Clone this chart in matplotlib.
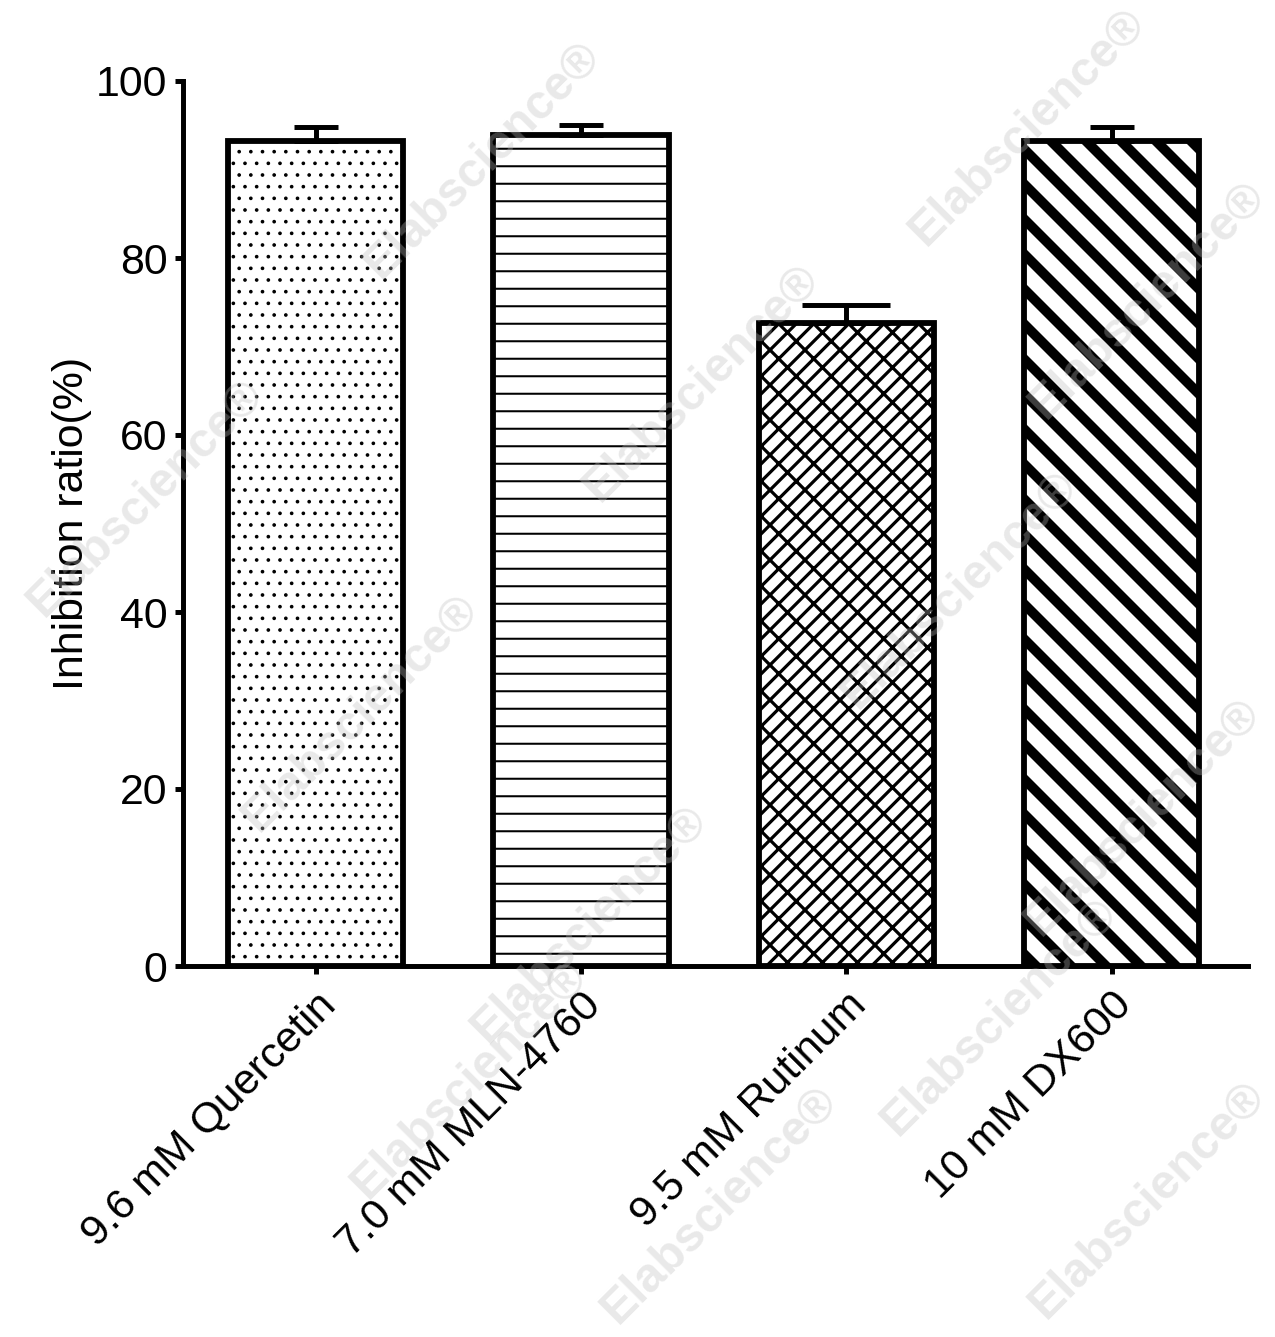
import matplotlib
matplotlib.use('Agg')
import matplotlib.pyplot as plt
import matplotlib.transforms as mtransforms
import numpy as np

# ---- data ----
categories = ["9.6 mM Quercetin", "7.0 mM MLN-4760", "9.5 mM Rutinum", "10 mM DX600"]
values = [93.2, 93.9, 72.6, 93.2]
errors = [1.6, 1.1, 2.1, 1.6]
y_ticks = [0, 20, 40, 60, 80, 100]
y_label = "Inhibition ratio(%)"

# ---- styles ----
hatches = ['...', '--', '////\\\\', '\\\\']
hatch_lws = [0.45, 0.7, 1.1, 3.4]
capsizes = [7.4, 7.4, 15.0, 7.4]

W, H, DPI = 1275, 1337, 210
plt.rcParams['font.family'] = ['Liberation Sans', 'DejaVu Sans']

fig = plt.figure(figsize=(W / DPI, H / DPI), dpi=DPI)
fig.patch.set_facecolor('white')

# faint watermarks
wm_centers = [(1028, 127), (483, 160), (1148, 300), (702, 383), (146, 498),
              (960, 590), (361, 713), (1143, 817), (590, 924), (1000, 1017),
              (470, 1080), (1148, 1200), (720, 1205)]
for cx, cy in wm_centers:
    fig.text(cx / W, 1 - cy / H, "Elabscience\u00ae", rotation=45,
             rotation_mode='anchor', ha='center', va='center',
             fontsize=16.5, fontweight='bold', color='#bdbdbd', alpha=0.33,
             zorder=10)

ax = fig.add_axes([183 / W, 1 - 966 / H, (1248 - 183) / W, (966 - 81) / H])
x = np.arange(len(categories))

for i in range(len(categories)):
    with plt.rc_context({'hatch.linewidth': hatch_lws[i]}):
        bars = ax.bar(x[i], values[i], width=0.66, color='white',
                      edgecolor='black', linewidth=2.0, hatch=hatches[i],
                      zorder=2)
    for b in bars:
        try:
            b.set_hatch_linewidth(hatch_lws[i])
        except AttributeError:
            pass
    ax.errorbar(x[i], values[i], yerr=[[0], [errors[i]]], fmt='none',
                ecolor='black', elinewidth=1.7, capsize=capsizes[i],
                capthick=1.7, zorder=3)

ax.set_xlim(-0.5, 3.514)
ax.set_ylim(0, 100)
ax.set_yticks(y_ticks)
ax.set_xticks(x)
ax.set_xticklabels(categories, rotation=45, ha='right', va='top',
                   rotation_mode='anchor')
shift = mtransforms.ScaledTranslation(-9 / DPI, 0, fig.dpi_scale_trans)
for lab in ax.get_xticklabels():
    lab.set_transform(lab.get_transform() + shift)

for s in ['top', 'right']:
    ax.spines[s].set_visible(False)
for s in ['left', 'bottom']:
    ax.spines[s].set_linewidth(1.7)

ax.tick_params(axis='both', direction='out', length=2.7, width=1.7,
               labelsize=14.7, colors='black')
ax.tick_params(axis='y', pad=2.7)
ax.tick_params(axis='x', pad=3.8)
ax.set_ylabel(y_label, fontsize=14.7, labelpad=1.5)

fig.savefig('out.png', dpi=DPI, facecolor='white')
